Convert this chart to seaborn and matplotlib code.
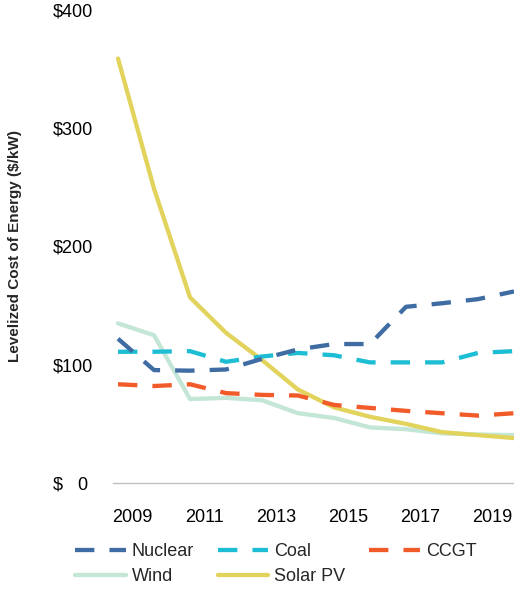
import pandas as pd
import matplotlib
matplotlib.use("Agg")
import matplotlib.pyplot as plt
import seaborn as sns

# --- dane ---
years = list(range(2009, 2021))
nuclear = [122, 95.5, 95, 96, 105, 113, 117.5, 117.5, 149, 152, 155.5, 162]
coal = [111, 111, 111.5, 102.5, 107, 110, 108, 102, 102, 102, 110, 111.5]
ccgt = [83.5, 82, 83.5, 76, 74.5, 74, 66, 63.5, 61, 59, 57, 59]
wind = [135, 125, 71, 72, 70, 59, 55, 47, 45.5, 42, 41, 40.5]
solar = [359, 249, 157, 127, 104, 79, 64, 56, 50, 43, 40.5, 38]

tick_years = [2009, 2011, 2013, 2015, 2017, 2019]
y_ticks = [0, 100, 200, 300, 400]
y_labels = ["$   0 ", "$100", "$200", "$300", "$400"]

series = {
    "Nuclear": nuclear,
    "Coal": coal,
    "CCGT": ccgt,
    "Wind": wind,
    "Solar PV": solar,
}
colors = {
    "Nuclear": "#3e6ca3",
    "Coal": "#1dbdd4",
    "CCGT": "#f15a29",
    "Wind": "#c3e6d6",
    "Solar PV": "#e2d35c",
}
dashed = {"Nuclear", "Coal", "CCGT"}

df = pd.DataFrame({"year": years, **series}).melt(id_vars="year", var_name="source", value_name="cost")

sns.set_style("white")
plt.rcParams["font.family"] = ["Liberation Sans", "DejaVu Sans"]

fig = plt.figure(figsize=(5.14, 5.96), dpi=100)
ax = fig.add_axes([113 / 514, 113 / 596, 401 / 514, 473 / 596])

# kolejność rysowania: linie ciągłe pod spodem
for name in ["Wind", "Solar PV", "CCGT", "Coal", "Nuclear"]:
    sub = df[df["source"] == name]
    sns.lineplot(data=sub, x="year", y="cost", ax=ax, color=colors[name],
                 linewidth=3.1, label=name, legend=False)
    if name in dashed:
        ax.lines[-1].set_dashes((4.5, 3.5))

ax.set_xlim(2009 - 5 / 36, 2020)
ax.set_ylim(0, 400)
ax.set_xticks([y + 0.39 for y in tick_years])
ax.set_xticklabels([str(y) for y in tick_years])
ax.set_yticks(y_ticks)
ax.set_yticklabels(y_labels)
ax.tick_params(axis="x", length=0, pad=19, labelsize=13, colors="#000000")
ax.tick_params(axis="y", direction="in", length=3.6, width=1, color="#bfbfbf",
               pad=14.5, labelsize=13, labelcolor="#000000")
ax.set_xlabel("")
ax.set_ylabel("")
for s in ["top", "right", "left"]:
    ax.spines[s].set_visible(False)
ax.spines["bottom"].set_color("#bfbfbf")
ax.spines["bottom"].set_linewidth(1)

fig.text(15 / 514, (596 - 246) / 596, "Levelized Cost of Energy ($/kW)",
         rotation=90, ha="center", va="center", fontsize=11, fontweight="bold")

# legenda wypełniana kolumnami -> kolejność tak, by wiersze były jak w oryginale
handles = {l.get_label(): l for l in ax.lines}
order = ["Nuclear", "Wind", "Coal", "Solar PV", "CCGT"]
fig.legend([handles[n] for n in order], order, loc="upper left",
           bbox_to_anchor=(75 / 514, 53 / 596), ncol=3, frameon=False,
           fontsize=13, handlelength=2.8, handletextpad=0.35,
           columnspacing=1.3, borderpad=0, borderaxespad=0, labelspacing=0.45)

fig.savefig("out.png", dpi=100)
